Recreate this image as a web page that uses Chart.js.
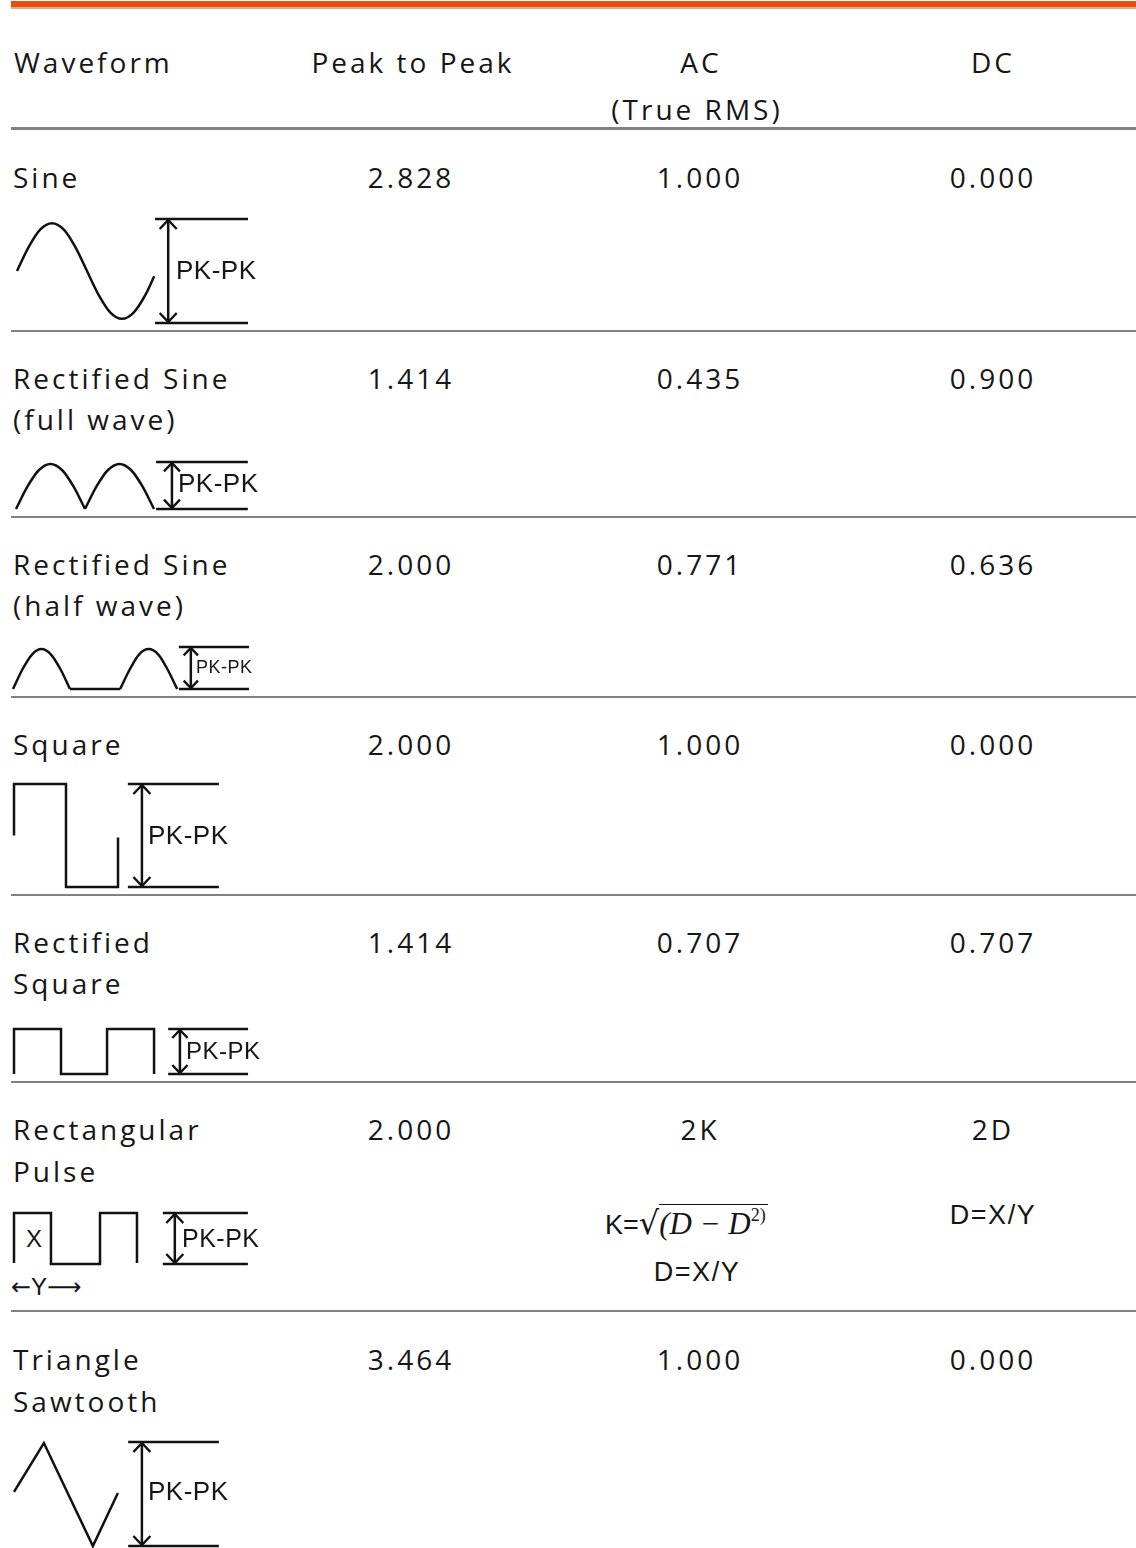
<!DOCTYPE html>
<html lang="en">

<head>
    <meta charset="UTF-8">
    <meta name="viewport" content="width=device-width, initial-scale=1.0">
    <script src="https://cdn.jsdelivr.net/npm/chart.js"></script>
    <title>Waveform table</title>
    <style>
        body { margin: 0; background: #fff; }
        #page { position: relative; width: 1136px; height: 1548px; overflow: hidden; font-family: "Open Sans", sans-serif; color: #161616; }
        .barra { position: absolute; left: 11px; right: 0; top: 1px; height: 6px; background: #e4500e; }
        .barra2 { position: absolute; left: 11px; right: 0; top: 7px; height: 2px; background: #f4a882; }
        .linha { position: absolute; left: 11px; right: 0; height: 2px; background: #818181; }
        .txt { position: absolute; font-size: 28px; letter-spacing: 3px; line-height: 36px; white-space: nowrap; }
        .centro { transform: translateX(-50%); text-align: center; }
        .arial { font-family: "Liberation Sans", Arial, sans-serif; letter-spacing: 0.5px; }
        .serif { font-family: "Liberation Serif", "Times New Roman", serif; font-style: italic; letter-spacing: 0; font-size: 31px; }
        .raiz { border-top: 1.5px solid #161616; padding-top: 1px; padding-right: 2px; }
        .seta { font-family: "DejaVu Sans", sans-serif; letter-spacing: 0; }
        sup { font-size: 18px; line-height: 0; vertical-align: 13px; font-style: normal; }
        canvas { position: absolute; left: 0; }
    </style>
</head>

<body>
    <div id="page">
        <div class="barra"></div>
        <div class="barra2"></div>
    </div>
</body>

<script>
    // table values
    const waveNames = [['Sine'], ['Rectified Sine', '(full wave)'], ['Rectified Sine', '(half wave)'], ['Square'], ['Rectified', 'Square'], ['Rectangular', 'Pulse'], ['Triangle', 'Sawtooth']];
    const peakToPeak = ['2.828', '1.414', '2.000', '2.000', '1.414', '2.000', '3.464'];
    const acRms = ['1.000', '0.435', '0.771', '1.000', '0.707', '2K', '1.000'];
    const dcValue = ['0.000', '0.900', '0.636', '0.000', '0.707', '2D', '0.000'];

    // waveform shapes: time (in drawing units) and level (0 = bottom, 1 = top of PK-PK)
    const sineT = [0, 0.083, 0.167, 0.25, 0.333, 0.417, 0.5, 0.583, 0.667, 0.75, 0.833, 0.917, 0.98];
    const sineY = [0.50, 0.73, 0.90, 0.96, 0.90, 0.73, 0.50, 0.27, 0.10, 0.04, 0.10, 0.27, 0.45];
    const fullT = [0, 0.167, 0.333, 0.5, 0.667, 0.833, 1, 1, 1, 1.167, 1.333, 1.5, 1.667, 1.833, 2];
    const fullY = [0, 0.48, 0.83, 0.96, 0.83, 0.48, 0, null, 0, 0.48, 0.83, 0.96, 0.83, 0.48, 0];
    const halfT = [0, 0.167, 0.333, 0.5, 0.667, 0.833, 1, 1, 1, 1.88, 1.88, 1.88, 2.05, 2.21, 2.38, 2.55, 2.71, 2.88];
    const halfY = [0, 0.47, 0.82, 0.95, 0.82, 0.47, 0, null, 0, 0, null, 0, 0.47, 0.82, 0.95, 0.82, 0.47, 0];
    const squareT = [0, 0, 1, 1, 2, 2];
    const squareY = [0.5, 1, 1, 0, 0, 0.48];
    const rectSqT = [0, 0, 1, 1, 1.98, 1.98, 2.98, 2.98];
    const rectSqY = [0, 1, 1, 0, 0, 1, 1, 0];
    const pulseT = [0, 0, 0.43, 0.43, 1, 1, 1.43, 1.43];
    const pulseY = [0.02, 1, 1, 0, 0, 1, 1, 0.02];
    const triT = [0, 0.61, 1.61, 2.12];
    const triY = [0.52, 0.99, 0, 0.51];

    // PK-PK marker: line start, arrow, line end (same time units)
    const sineMark = [0.986, 1.08, 1.65];
    const fullMark = [2.03, 2.26, 3.36];
    const halfMark = [2.91, 3.12, 4.14];
    const squareMark = [2.19, 2.46, 3.94];
    const rectSqMark = [3.28, 3.53, 4.98];
    const pulseMark = [1.73, 1.87, 2.72];
    const triMark = [2.33, 2.61, 4.18];

    const shapes = [
        { t: sineT, y: sineY, mark: sineMark, curva: true },
        { t: fullT, y: fullY, mark: fullMark, curva: true },
        { t: halfT, y: halfY, mark: halfMark, curva: true },
        { t: squareT, y: squareY, mark: squareMark, curva: false },
        { t: rectSqT, y: rectSqY, mark: rectSqMark, curva: false },
        { t: pulseT, y: pulseY, mark: pulseMark, curva: false },
        { t: triT, y: triY, mark: triMark, curva: false }
    ];

    // layout (pixels)
    const regras = [331, 517, 697, 895, 1082, 1311];
    const nomeY = [[178], [379, 420], [565, 606], [745], [943, 984], [1130, 1172], [1360, 1402]];
    const graf = [
        { x0: 17, un: 140, topo: 219, base: 323, pkX: 176, pkY: 271, pkF: 26 },
        { x0: 16, un: 69, topo: 462, base: 509, pkX: 178, pkY: 484, pkF: 26 },
        { x0: 13, un: 57, topo: 647, base: 689, pkX: 196, pkY: 668, pkF: 18 },
        { x0: 14, un: 52, topo: 784, base: 887, pkX: 148, pkY: 836, pkF: 26 },
        { x0: 14, un: 47, topo: 1029, base: 1074, pkX: 186, pkY: 1052, pkF: 24 },
        { x0: 14, un: 86, topo: 1213, base: 1264, pkX: 182, pkY: 1239, pkF: 25 },
        { x0: 14, un: 49, topo: 1442, base: 1546, pkX: 148, pkY: 1492, pkF: 26 }
    ];
    const colPk = 411, colAc = 700, colDc = 993;

    const page = document.getElementById('page');

    function texto(html, x, y, classes, estilo) {
        const d = document.createElement('div');
        d.className = 'txt ' + (classes || '');
        d.innerHTML = html;
        d.style.left = x + 'px';
        d.style.top = (y - 19) + 'px';
        if (estilo) d.style.cssText += estilo;
        page.appendChild(d);
        return d;
    }

    // header
    texto('Waveform', 14, 63);
    texto('Peak to Peak', 413, 63, 'centro');
    texto('AC', 701, 63, 'centro');
    texto('(True RMS)', 697, 110, 'centro');
    texto('DC', 993, 63, 'centro');

    const h = document.createElement('div');
    h.className = 'linha';
    h.style.top = '127px';
    h.style.height = '3px';
    page.appendChild(h);

    regras.forEach(y => {
        const l = document.createElement('div');
        l.className = 'linha';
        l.style.top = (y - 1) + 'px';
        page.appendChild(l);
    });

    waveNames.forEach((nomes, i) => {
        nomes.forEach((n, k) => texto(n, 13, nomeY[i][k]));
        texto(peakToPeak[i], colPk, nomeY[i][0], 'centro');
        texto(acRms[i], colAc, nomeY[i][0], 'centro');
        texto(dcValue[i], colDc, nomeY[i][0], 'centro');
    });

    // extras da linha do pulso
    texto('X', 26, 1240, 'arial', 'font-size:24px;');
    texto('<span class="seta">←</span>Y<span class="seta">⟶</span>', 11, 1288, 'arial', 'font-size:24px;letter-spacing:0;');
    texto('K=<span class="seta" style="font-size:32px">√</span><span class="raiz serif">(D − D<sup>2)</sup></span>', 605, 1224, 'arial', 'font-size:27px;letter-spacing:0;');
    texto('D=X/Y', 697, 1273, 'arial centro', 'font-size:27px;letter-spacing:1.5px;');
    texto('D=X/Y', 993, 1216, 'arial centro', 'font-size:27px;letter-spacing:1.5px;');

    function setas(x) {
        return {
            id: 'setas',
            afterDatasetsDraw(chart) {
                const ctx = chart.ctx;
                const px = chart.scales.x.getPixelForValue(x);
                const yt = chart.scales.y.getPixelForValue(1);
                const yb = chart.scales.y.getPixelForValue(0);
                const hh = Math.min(10, (yb - yt) * 0.2);
                const hw = hh * 0.85;
                ctx.save();
                ctx.strokeStyle = '#111';
                ctx.lineWidth = 2.4;
                ctx.lineJoin = 'miter';
                ctx.beginPath();
                ctx.moveTo(px - hw, yt + hh); ctx.lineTo(px, yt + 1); ctx.lineTo(px + hw, yt + hh);
                ctx.moveTo(px - hw, yb - hh); ctx.lineTo(px, yb - 1); ctx.lineTo(px + hw, yb - hh);
                ctx.stroke();
                ctx.restore();
            }
        };
    }

    shapes.forEach((s, i) => {
        const L = graf[i];
        const pad = 12, w = 270;
        const cv = document.createElement('canvas');
        cv.width = w;
        cv.height = L.base - L.topo + 2 * pad;
        cv.style.top = (L.topo - pad) + 'px';
        page.appendChild(cv);

        const pts = s.t.map((t, k) => ({ x: t, y: s.y[k] }));
        const m = s.mark;
        const estilo = { borderColor: '#111', borderWidth: 2.5, pointRadius: 0, clip: false, spanGaps: false };

        new Chart(cv, {
            type: 'line',
            data: {
                datasets: [
                    Object.assign({ data: pts, cubicInterpolationMode: s.curva ? 'monotone' : 'default', tension: 0 }, estilo),
                    Object.assign({ data: [{ x: m[0], y: 1 }, { x: m[2], y: 1 }] }, estilo),
                    Object.assign({ data: [{ x: m[0], y: 0 }, { x: m[2], y: 0 }] }, estilo),
                    Object.assign({ data: [{ x: m[1], y: 0 }, { x: m[1], y: 1 }] }, estilo)
                ]
            },
            options: {
                responsive: false,
                animation: false,
                devicePixelRatio: 1,
                events: [],
                layout: { padding: { top: pad, bottom: pad, left: 0, right: 0 } },
                scales: {
                    x: { type: 'linear', display: false, min: -L.x0 / L.un, max: (w - L.x0) / L.un },
                    y: { type: 'linear', display: false, min: 0, max: 1 }
                },
                plugins: { legend: { display: false }, tooltip: { enabled: false } }
            },
            plugins: [setas(m[1])]
        });

        texto('PK-PK', L.pkX, L.pkY, 'arial', 'font-size:' + L.pkF + 'px;');
    });
</script>

</html>
